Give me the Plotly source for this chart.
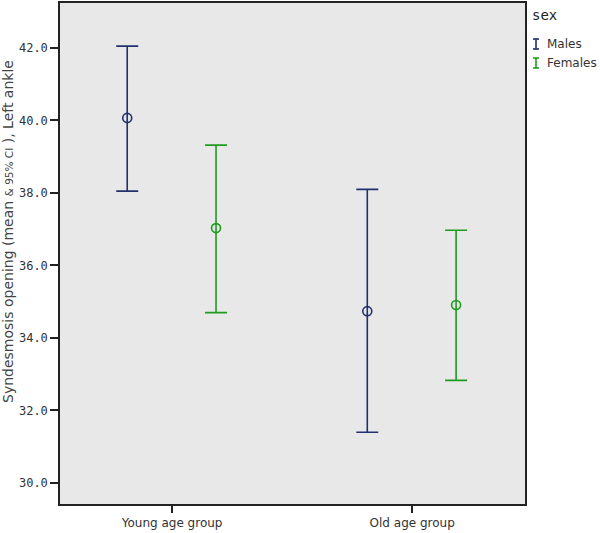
import plotly.graph_objects as go

groups = ["Young age group", "Old age group"]
series = ["Males", "Females"]
means = {"Males": [40.07, 34.74], "Females": [37.03, 34.91]}
upper = {"Males": [42.05, 38.10], "Females": [39.32, 36.97]}
lower = {"Males": [38.05, 31.40], "Females": [34.70, 32.83]}
colors = {"Males": "#22306e", "Females": "#1e9b1e"}
offsets = {"Males": -0.187, "Females": 0.183}
yticks = [30, 32, 34, 36, 38, 40, 42]
ytitle = 'Syndesmosis opening (mean <span style="font-size:10.5px">&amp; 95% CI</span> ), Left ankle'

fig = go.Figure()
for s in series:
    xs = [i + offsets[s] for i in range(len(groups))]
    fig.add_trace(go.Scatter(
        x=xs, y=means[s], mode="markers", name=s, showlegend=False,
        marker=dict(symbol="circle-open", size=9, color=colors[s], line=dict(width=1.6, color=colors[s])),
        error_y=dict(type="data", symmetric=False,
                     array=[u - m for u, m in zip(upper[s], means[s])],
                     arrayminus=[m - l for m, l in zip(means[s], lower[s])],
                     color=colors[s], thickness=1.6, width=11),
    ))

fig.update_xaxes(range=[-0.467, 1.47], tickvals=list(range(len(groups))), ticktext=groups,
                 showline=True, linecolor="#222", linewidth=1.5, mirror=True,
                 ticks="outside", ticklen=7, tickwidth=2, tickcolor="#222",
                 showgrid=False, zeroline=False, automargin=False,
                 tickfont=dict(family="DejaVu Sans", size=12, color="#333"))
fig.update_yaxes(range=[29.42, 43.24], tickvals=yticks, ticktext=[f"{v:.1f}" for v in yticks],
                 showline=True, linecolor="#222", linewidth=1.5, mirror=True,
                 ticks="outside", ticklen=8, tickwidth=2, tickcolor="#222",
                 showgrid=False, zeroline=False, automargin=False,
                 tickfont=dict(family="DejaVu Sans Mono", size=12, color="#333"))

W, H = 600, 533
ml, mr, mt, mb = 60, 75, 3, 29
pw, ph = W - ml - mr, H - mt - mb
def px(x): return (x - ml) / pw
def py(y): return 1 - (y - mt) / ph

fig.add_annotation(x=px(8), y=py(232), xref="paper", yref="paper", text=ytitle, showarrow=False,
                   textangle=-90, xanchor="center", yanchor="middle",
                   font=dict(family="DejaVu Sans", size=14, color="#444"))
fig.add_annotation(x=px(530), y=py(15), xref="paper", yref="paper", text="sex", showarrow=False,
                   xanchor="left", yanchor="middle", font=dict(family="DejaVu Sans Mono", size=14, color="#222"))
legend_items = [("Males", 44), ("Females", 63)]
for name, yc in legend_items:
    c = colors[name]
    fig.add_shape(type="line", xref="paper", yref="paper", x0=px(536), x1=px(536), y0=py(yc - 5), y1=py(yc + 5), line=dict(color=c, width=1.6))
    fig.add_shape(type="line", xref="paper", yref="paper", x0=px(533), x1=px(539), y0=py(yc - 5), y1=py(yc - 5), line=dict(color=c, width=1.6))
    fig.add_shape(type="line", xref="paper", yref="paper", x0=px(533), x1=px(539), y0=py(yc + 5), y1=py(yc + 5), line=dict(color=c, width=1.6))
    fig.add_annotation(x=px(545), y=py(yc), xref="paper", yref="paper", text=name, showarrow=False,
                       xanchor="left", yanchor="middle", font=dict(family="DejaVu Sans", size=12, color="#333"))

fig.update_layout(width=W, height=H, margin=dict(l=ml, r=mr, t=mt, b=mb),
                  plot_bgcolor="#e8e8e8", paper_bgcolor="white", showlegend=False)
fig.write_html("out.html", config={"displayModeBar": False},
               post_script="document.body.style.margin='0';document.body.style.overflow='hidden';")
